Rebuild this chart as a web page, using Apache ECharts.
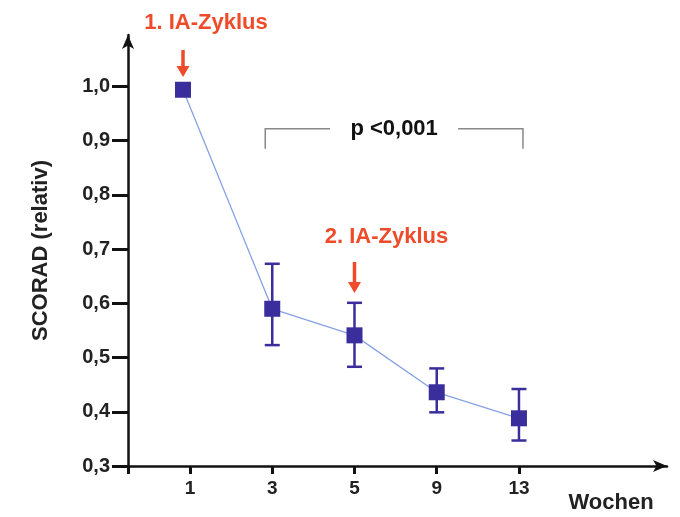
<!DOCTYPE html>
<html lang="de">
<head>
<meta charset="UTF-8">
<title>SCORAD relativ</title>
<script src="https://cdn.jsdelivr.net/npm/echarts@6/dist/echarts.min.js"></script>
<style>html,body{margin:0;padding:0;background:#fff;}</style>
</head>
<body>
<div id="Main" style="width:680px;height:517px;"></div>
<script>
// Daten
var weeks = ['1', '3', '5', '9', '13'];
var xPos = [0.915, 2, 3, 4, 5];           // Position auf der x-Achse (erster Punkt leicht links)
var meanVals = [0.994, 0.590, 0.541, 0.436, 0.388];
var lowVals = [null, 0.523, 0.483, 0.399, 0.347];
var highVals = [null, 0.673, 0.601, 0.480, 0.442];
var yTicks = [0.3, 0.4, 0.5, 0.6, 0.7, 0.8, 0.9, 1.0];
var xTicks = [1, 2, 3, 4, 5];

var FONT = 'Liberation Sans';
var X_MIN = 0.246, X_MAX = 6.8;
var markColor = '#3a2d9c';
var red = '#ee4b2b';

var lineData = [], errData = [];
for (var i = 0; i < weeks.length; i++) {
    lineData.push([xPos[i], meanVals[i]]);
    if (lowVals[i] != null) errData.push([xPos[i], lowVals[i], highVals[i]]);
}

var myChart = echarts.init(document.getElementById('Main'));
myChart.setOption({
    animation: false,
    grid: { left: 128, right: 13, top: 35, bottom: 51 },
    xAxis: {
        type: 'value',
        min: X_MIN,
        max: X_MAX,
        splitLine: { show: false },
        axisLine: { lineStyle: { color: '#111', width: 2.5 }, symbol: ['none', 'arrow'], symbolSize: [9, 14] },
        axisTick: { show: true, length: 8, lineStyle: { color: '#111', width: 3 }, customValues: [X_MIN].concat(xTicks) },
        axisLabel: {
            customValues: xTicks, margin: 13,
            fontFamily: FONT, fontSize: 19, fontWeight: 'bold', color: '#222',
            formatter: function (v) { return weeks[Math.round(v) - 1]; }
        }
    },
    yAxis: {
        type: 'value',
        min: 0.3,
        max: 1.095,
        name: 'SCORAD (relativ)',
        nameLocation: 'middle',
        nameGap: 76,
        nameTextStyle: { fontFamily: FONT, fontSize: 22, fontWeight: 'bold', color: '#222' },
        splitLine: { show: false },
        axisLine: { lineStyle: { color: '#111', width: 2.5 }, symbol: ['none', 'arrow'], symbolSize: [9, 14] },
        axisTick: { show: true, length: 16, lineStyle: { color: '#111', width: 3 }, customValues: yTicks },
        axisLabel: {
            customValues: yTicks, margin: 18,
            fontFamily: FONT, fontSize: 20, fontWeight: 'bold', color: '#222',
            formatter: function (v) { return v.toFixed(1).replace('.', ','); }
        }
    },
    series: [{
        type: 'custom',
        z: 1,
        data: errData,
        renderItem: function (params, api) {
            var x = api.value(0);
            var lo = api.coord([x, api.value(1)]);
            var hi = api.coord([x, api.value(2)]);
            var w = 7.5;
            var st = { stroke: markColor, lineWidth: 2.5 };
            return {
                type: 'group',
                children: [
                    { type: 'line', shape: { x1: lo[0], y1: lo[1], x2: hi[0], y2: hi[1] }, style: st },
                    { type: 'line', shape: { x1: lo[0] - w, y1: lo[1], x2: lo[0] + w, y2: lo[1] }, style: st },
                    { type: 'line', shape: { x1: hi[0] - w, y1: hi[1], x2: hi[0] + w, y2: hi[1] }, style: st }
                ]
            };
        }
    }, {
        type: 'line',
        z: 2,
        data: lineData,
        symbol: 'rect',
        symbolSize: 16,
        itemStyle: { color: markColor },
        lineStyle: { color: '#86a2e4', width: 1.3 }
    }]
});

// Anmerkungen (Pfeile, Klammer) an Datenpunkten ausrichten
function px(x, y) { return myChart.convertToPixel({ gridIndex: 0 }, [x, y]); }
function arrow(x, y1, y2) {
    return [
        { type: 'line', shape: { x1: x, y1: y1, x2: x, y2: y2 - 8 }, style: { stroke: red, lineWidth: 3.5 } },
        { type: 'polygon', shape: { points: [[x - 6.5, y2 - 11], [x + 6.5, y2 - 11], [x, y2]] }, style: { fill: red } }
    ];
}
var p1 = px(xPos[0], meanVals[0]);
var p5 = px(xPos[2], highVals[2]);
var bl = px(xPos[1], 0.922);
var br = px(xPos[4], 0.922);
var bL = bl[0] - 7, bR = br[0] + 4, bY = bl[1], bMid = (bL + bR) / 2;
var g = [];
g.push({ type: 'text', x: p1[0] + 23, y: 23, style: { text: '1. IA-Zyklus', fill: red, font: 'bold 22px "Liberation Sans"', align: 'center', verticalAlign: 'middle' } });
g = g.concat(arrow(p1[0], 50, 77));
g.push({ type: 'text', x: p5[0] + 32, y: 237, style: { text: '2. IA-Zyklus', fill: red, font: 'bold 22px "Liberation Sans"', align: 'center', verticalAlign: 'middle' } });
g = g.concat(arrow(p5[0], 262, 293));
g.push({ type: 'polyline', shape: { points: [[bL, bY + 20], [bL, bY], [bMid - 64, bY]] }, style: { stroke: '#888', lineWidth: 1.5, fill: null } });
g.push({ type: 'polyline', shape: { points: [[bMid + 64, bY], [bR, bY], [bR, bY + 20]] }, style: { stroke: '#888', lineWidth: 1.5, fill: null } });
g.push({ type: 'text', x: bMid, y: bY, style: { text: 'p <0,001', fill: '#111', font: 'bold 22px "Liberation Sans"', align: 'center', verticalAlign: 'middle' } });
g.push({ type: 'text', x: 611, y: 503, style: { text: 'Wochen', fill: '#222', font: 'bold 22px "Liberation Sans"', align: 'center', verticalAlign: 'middle' } });
myChart.setOption({ graphic: g });
</script>
</body>
</html>
